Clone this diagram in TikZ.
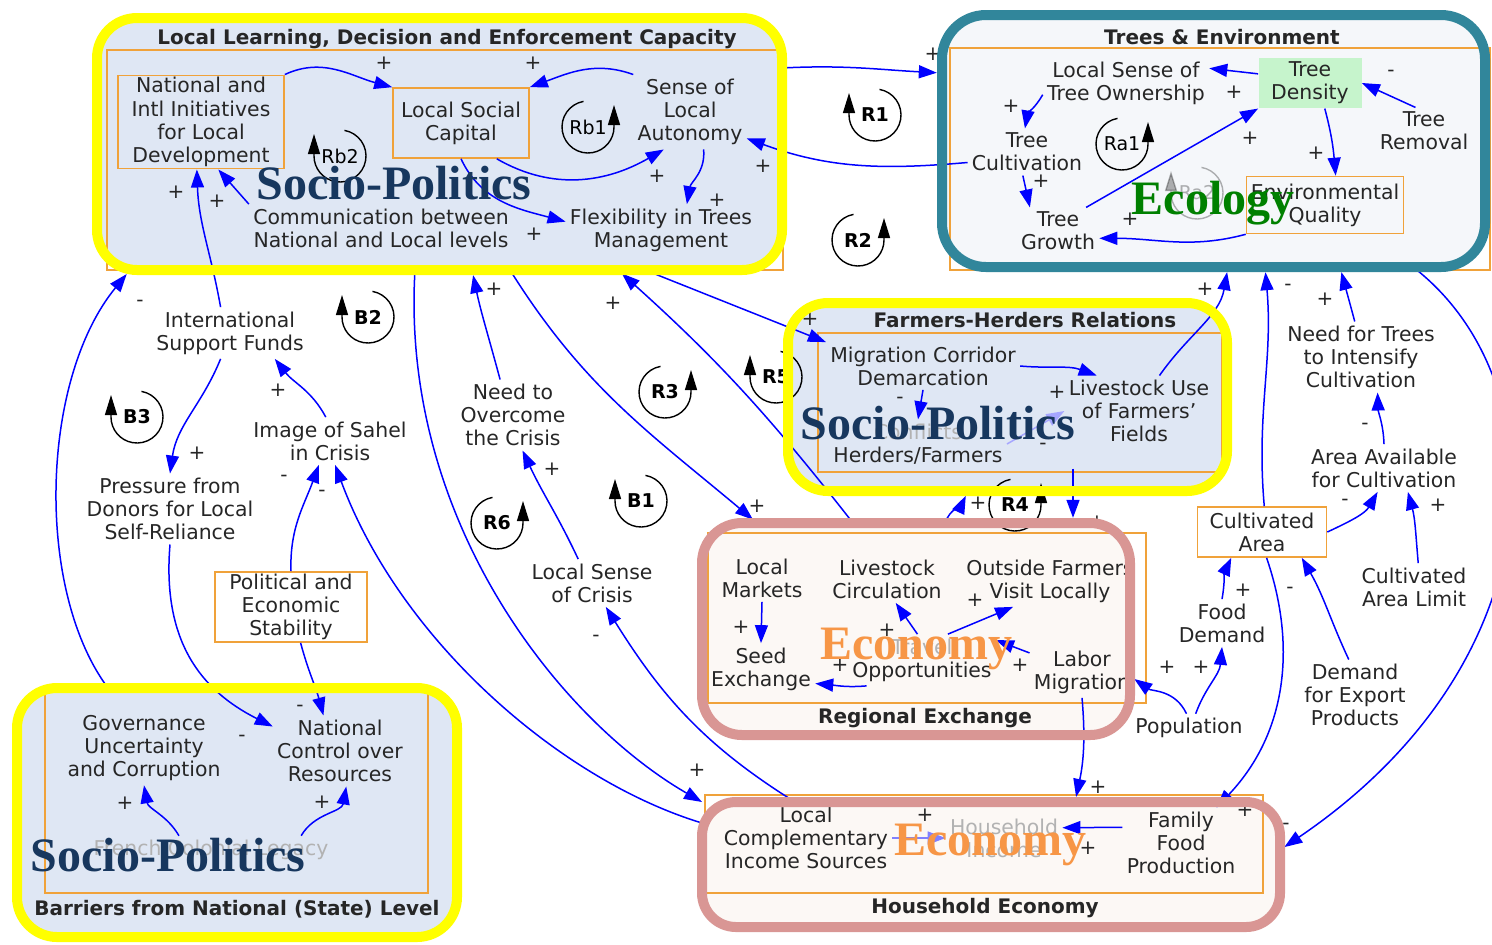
\documentclass[tikz,border=0pt]{standalone}
\usepackage{fontspec}
\setmainfont{DejaVu Sans}
\newfontfamily\bigserif{Liberation Serif}
\usetikzlibrary{arrows.meta,fit,calc}
\definecolor{rimyellow}{HTML}{FFFF00}
\definecolor{rimteal}{HTML}{31869B}
\definecolor{rimpink}{HTML}{D99694}
\definecolor{skyfill}{HTML}{DFE7F4}
\definecolor{palefill}{HTML}{F5F7FA}
\definecolor{creamfill}{HTML}{FCF8F5}
\definecolor{frameorange}{HTML}{F0A23A}
\definecolor{treegreen}{HTML}{C6F4CC}
\definecolor{navy}{HTML}{17375E}
\definecolor{ecogreen}{HTML}{008000}
\definecolor{econorange}{HTML}{F79646}
\definecolor{inkgray}{HTML}{262626}
\tikzset{
  >={Triangle[length=9pt,width=6.5pt]},
  var/.style={align=center, inner sep=2pt, text=inkgray, font=\fontsize{10.2}{11.6}\selectfont},
  stock/.style={var, draw=frameorange, line width=0.8pt, inner sep=1pt},
  link/.style={->, blue, line width=0.75pt},
  toframe/.style={shorten >=2.6pt},
  pol/.style={text=inkgray, inner sep=0pt, font=\fontsize{10}{10}\selectfont},
  grp/.style={inner sep=0pt, outer sep=0pt, rounded corners=20pt},
  rim/.style={line width=5pt, rounded corners=20pt},
  frame/.style={draw=frameorange, line width=1pt},
  title/.style={text=inkgray, font=\bfseries\fontsize{10}{12}\selectfont},
  big/.style={font=\bigserif\bfseries\fontsize{24}{24}\selectfont},
  loopline/.style={black, line width=0.7pt, -{Triangle[length=10pt,width=6pt]}},
  looptext/.style={text=black, inner sep=0pt, font=\bfseries\fontsize{9.5}{10}\selectfont},
  loopl/.pic={\draw[loopline] (80:13pt) arc[start angle=80,end angle=-180,radius=13pt] -- ++(0pt,11pt);
    \node[looptext] (-t) at (0,0) {#1};},
  loopr/.pic={\draw[loopline] (100:13pt) arc[start angle=100,end angle=360,radius=13pt] -- ++(0pt,11pt);
    \node[looptext] (-t) at (0,0) {#1};}
}
\begin{document}
\begin{tikzpicture}[x=0.5pt,y=-0.5pt]
\useasboundingbox (0,0) rectangle (1492,944);

\node[grp, fill=skyfill, fit={(97,18) (782,270)}] (learn) {};
\node[grp, fill=palefill, rounded corners=22pt, fit={(942,15) (1485,267)}] (trees) {};
\node[grp, fill=skyfill, fit={(788,303) (1227,491)}] (farm) {};
\node[grp, fill=creamfill, fit={(702,523) (1130,735)}] (reg) {};
\node[grp, fill=creamfill, rounded corners=17pt, fit={(702,802) (1280,927)}] (hh) {};
\node[grp, fill=skyfill, fit={(17,688) (457,937)}] (bar) {};

\draw[frame] (107,50) rectangle (783,270);
\draw[frame] (950,48) rectangle (1490,270);
\draw[frame] (818,333) rectangle (1222,472);
\draw[frame] (708,533) rectangle (1146,703);
\draw[frame] (705,795) rectangle (1263,893);
\draw[frame] (45,690) rectangle (428,893);

\node[title] (learnT) at (447,39) {Local Learning, Decision and Enforcement Capacity};
\node[title] (treesT) at (1222,37) {Trees \& Environment};
\node[title] (farmT) at (1025,320) {Farmers-Herders Relations};
\node[title] (regT) at (925,718) {Regional Exchange};
\node[title] (hhT) at (985,908) {Household Economy};
\node[title] (barT) at (237,909) {Barriers from National (State) Level};

\node[stock, minimum width=83pt, minimum height=46.5pt] (natl) at (201,122) {National and\\Intl Initiatives\\for Local\\Development};
\node[stock, minimum width=68pt, minimum height=35pt] (lsc) at (461,123) {Local Social\\Capital};
\node[var] (sla) at (690,112) {Sense of\\Local\\Autonomy};
\node[var] (comm) at (381,228) {Communication between\\National and Local levels};
\node[var] (flex) at (661,230) {Flexibility in Trees\\Management};

\node[var] (lsto) at (1126,83) {Local Sense of\\Tree Ownership};
\node[var, fill=treegreen, minimum width=51.5pt, minimum height=24pt] (tden) at (1310,83) {Tree\\Density};
\node[var] (trem) at (1424,131) {Tree\\Removal};
\node[var] (tcult) at (1027,152) {Tree\\Cultivation};
\node[var] (tgrow) at (1058,231) {Tree\\Growth};
\node[stock, minimum width=78.5pt, minimum height=28.5pt] (envq) at (1325,205) {Environmental\\Quality};

\node[var] (mig) at (923,366) {Migration Corridor\\Demarcation};
\node[var] (luse) at (1139,411) {Livestock Use\\of Farmers'\\Fields};
\node[var] (confl) at (918,444) {\textcolor{black!30}{Conflicts}\\Herders/Farmers};

\node[var] (lmkt) at (762,578) {Local\\Markets};
\node[var] (seed) at (761,669) {Seed\\Exchange};
\node[var] (lcirc) at (887,579) {Livestock\\Circulation};
\node[var] (ofv) at (1050,581) {Outside Farmers\\Visit Locally};
\node[var] (topp) at (922,660) {\textcolor{black!30}{Travel}\\Opportunities};
\node[var] (labor) at (1082,672) {Labor\\Migration};

\node[var] (lcis) at (806,838) {Local\\Complementary\\Income Sources};
\node[var, text=black!30] (hinc) at (1004,838) {Household\\Income};
\node[var] (ffp) at (1181,843) {Family\\Food\\Production};

\node[var] (gov) at (144,748) {Governance\\Uncertainty\\and Corruption};
\node[var] (ncr) at (340,751) {National\\Control over\\Resources};
\node[var, text=black!30] (fcl) at (211,850) {French Colonial Legacy};

\node[var] (isf) at (230,333) {International\\Support Funds};
\node[var] (pdl) at (170,509) {Pressure from\\Donors for Local\\Self-Reliance};
\node[var] (isc) at (330,441) {Image of Sahel\\in Crisis};
\node[stock, minimum width=76pt, minimum height=35pt] (pes) at (291,607) {Political and\\Economic\\Stability};
\node[var] (noc) at (513,415) {Need to\\Overcome\\the Crisis};
\node[var] (lsoc) at (592,583) {Local Sense\\of Crisis};
\node[stock, minimum width=64.5pt, minimum height=25pt] (carea) at (1262,532) {Cultivated\\Area};
\node[var] (ntic) at (1361,357) {Need for Trees\\to Intensify\\Cultivation};
\node[var] (aac) at (1384,468) {Area Available\\for Cultivation};
\node[var] (cal) at (1414,587) {Cultivated\\Area Limit};
\node[var] (fd) at (1222,623) {Food\\Demand};
\node[var] (dep) at (1355,695) {Demand\\for Export\\Products};
\node[var] (pop) at (1189,728) {Population};

\draw[link] (natl.north east) to[out=25,in=165] (lsc.north west) node[pol,at={(384,63)}] {+};
\draw[link] (sla.north west) to[out=160,in=20] (lsc.north east) node[pol,at={(533,63)}] {+};
\draw[link] (lsc.-45) to[out=-30,in=-150] (sla.-125) node[pol,at={(657,176)}] {+};
\draw[link] (sla.-70) to[out=-85,in=80] (flex.45) node[pol,at={(717,200)}] {+};
\draw[link] (comm.north west) -- (natl.-70) node[pol,at={(217,201)}] {+};
\draw[link] (lsc.south) to[out=-65,in=165] (flex.175) node[pol,at={(534,234)}] {+};

\draw[link] (tden.170) -- (lsto.10) node[pol,at={(1234,92)}] {+};
\draw[link] (trem.110) -- (tden.east) node[pol,at={(1391,73)}] {-};
\draw[link] (lsto.188) to[out=-120,in=80] (tcult.95) node[pol,at={(1011,106)}] {+};
\draw[link] (tcult.-100) -- (tgrow.140) node[pol,at={(1041,181)}] {+};
\draw[link] (tgrow.40) -- (tden.south west) node[pol,at={(1250,138)}] {+};
\draw[link] (tden.-60) to[out=-75,in=95] (envq.70) node[pol,at={(1316,153)}] {+};
\draw[link] (envq.south west) to[out=195,in=0] (tgrow.-10) node[pol,at={(1130,219)}] {+};

\draw[link] (mig.east) to[out=-5,in=160] (luse.140) node[pol,at={(1057,392)}] {+};
\draw[link] (mig.south) -- (confl.north) node[pol,at={(900,400)}] {-};
\draw[link, blue!35] (confl.east) -- (luse.west) node[pol,at={(1043,446)}] {-};

\draw[link] (lmkt.south) -- (seed.north) node[pol,at={(741,627)}] {+};
\draw[link] (topp.-155) to[out=185,in=-5] (seed.-15) node[pol,at={(840,665)}] {+};
\draw[link] (topp.100) -- (lcirc.-70) node[pol,at={(887,630)}] {+};
\draw[link] (topp.45) -- (ofv.-145) node[pol,at={(975,600)}] {+};
\draw[link] (labor.160) -- (topp.15) node[pol,at={(1020,665)}] {+};

\draw[link, blue!50] (lcis.east) -- (hinc.west) node[pol,at={(925,815)}] {+};
\draw[link] (ffp.165) -- (hinc.10) node[pol,at={(1088,848)}] {+};

\draw[link] (fcl.156) to[out=120,in=-80] (gov.south) node[pol,at={(125,803)}] {+};
\draw[link] (fcl.9) to[out=60,in=-100] (ncr.-80) node[pol,at={(322,802)}] {+};

\draw[link, toframe] (learn.east |- 0,68) to[out=3,in=177] (trees.west |- 0,73) node[pol,at={(933,54)}] {+};
\draw[link] (tcult.190) to[out=185,in=-20] (sla.-25) node[pol,at={(763,166)}] {+};
\draw[link, toframe] (noc.110) to[out=105,in=-78] (472,0 |- learn.south) node[pol,at={(494,289)}] {+};
\draw[link] (lsoc.120) to[out=115,in=-65] (noc.-75) node[pol,at={(552,469)}] {+};
\draw[link, toframe] (510,0 |- learn.south) to[out=-58,in=140] (757,0 |- reg.north) node[pol,at={(757,506)}] {+};
\draw[link, toframe] (853,0 |- reg.north) to[out=128,in=-42] (618,0 |- learn.south) node[pol,at={(613,303)}] {+};
\draw[link] (645,0 |- learn.south) -- (mig.north west) node[pol,at={(810,319)}] {+};
\draw[link, toframe] (luse.60) to[out=55,in=-100] (1228,0 |- trees.south) node[pol,at={(1205,289)}] {+};
\draw[link, toframe] (945,0 |- reg.north) to[out=70,in=-115] (968,0 |- farm.south) node[pol,at={(978,503)}] {+};
\draw[link, toframe] (1073,0 |- confl.south) -- (1073,0 |- reg.north) node[pol,at={(1097,522)}] {+};
\draw[link, toframe] (labor.south) to[out=-85,in=78] (1075,0 |- hh.north) node[pol,at={(1098,787)}] {+};
\draw[link, toframe] (pop.100) to[out=115,in=-35] (reg.east |- 0,676) node[pol,at={(1167,667)}] {+};
\draw[link] (pop.65) to[out=70,in=-95] (fd.south) node[pol,at={(1201,667)}] {+};
\draw[link] (fd.north) to[out=80,in=-115] (carea.-140) node[pol,at={(1243,590)}] {+};
\draw[link] (dep.100) to[out=115,in=-60] (carea.-33) node[pol,at={(1290,590)}] {-};
\draw[link] (carea.-80) .. controls (1295,640) and (1290,730) .. (ffp.45) node[pol,at={(1245,810)}] {+};
\draw[link, toframe] (carea.85) to[out=95,in=-85] (1265,0 |- trees.south) node[pol,at={(1288,287)}] {-};
\draw[link] (carea.east) to[out=25,in=-120] (aac.-105) node[pol,at={(1345,502)}] {-};
\draw[link] (cal.80) to[out=95,in=-75] (aac.-45) node[pol,at={(1438,505)}] {+};
\draw[link] (aac.north) to[out=92,in=-88] (ntic.-65) node[pol,at={(1365,426)}] {-};
\draw[link, toframe] (ntic.100) to[out=105,in=-75] (1340,0 |- trees.south) node[pol,at={(1325,299)}] {+};
\draw[link, toframe] (1413,0 |- trees.south) .. controls (1560,380) and (1560,660) .. (hh.east |- 0,850) node[pol,at={(1286,826)}] {-};
\draw[link] (415,0 |- learn.south) .. controls (400,520) and (560,720) .. (hh.north west) node[pol,at={(697,770)}] {+};
\draw[link] (795,0 |- hh.north) to[out=148,in=-58] (lsoc.-60) node[pol,at={(596,638)}] {-};
\draw[link] (hh.west |- 0,823) .. controls (560,780) and (400,640) .. (isc.-78) node[pol,at={(322,493)}] {-};
\draw[link, toframe] (108,0 |- bar.north) .. controls (35,590) and (40,380) .. (130,0 |- learn.south) node[pol,at={(140,303)}] {-};
\draw[link] (isf.110) to[out=100,in=-88] (natl.-95) node[pol,at={(176,192)}] {+};
\draw[link] (isf.-110) to[out=-112,in=82] (pdl.north) node[pol,at={(197,453)}] {+};
\draw[link] (isc.100) to[out=118,in=-52] (isf.-30) node[pol,at={(278,390)}] {+};
\draw[link] (pes.north) to[out=92,in=-110] (isc.-115) node[pol,at={(284,478)}] {-};
\draw[link] (pdl.south) .. controls (162,640) and (200,690) .. (ncr.160) node[pol,at={(242,738)}] {-};
\draw[link] (pes.-75) to[out=-75,in=105] (ncr.115) node[pol,at={(300,708)}] {-};

\pic (R1) at (875,115) {loopl=R1};
\pic (R2) at (858,240) {loopr=R2};
\pic (R3) at (665,392) {loopr=R3};
\pic (R4) at (1015,505) {loopr=R4};
\pic (R5) at (776,377) {loopl=R5};
\pic (R6) at (497,523) {loopr=R6};
\pic (B1) at (641,501) {loopl=B1};
\pic (B2) at (368,317) {loopl=B2};
\pic (B3) at (137,417) {loopl=B3};
\pic (Rb1) at (588,127) {loopr={\mdseries Rb1}};
\pic (Rb2) at (340,156) {loopl={\mdseries Rb2}};
\pic (Ra1) at (1122,144) {loopr={\mdseries Ra1}};
\pic[opacity=0.3] (Ra2) at (1197,193) {loopl={\mdseries Ra2}};

\draw[rim, rimyellow] (learn.south west) rectangle (learn.north east);
\draw[rim, rimteal, rounded corners=22pt] (trees.south west) rectangle (trees.north east);
\draw[rim, rimyellow] (farm.south west) rectangle (farm.north east);
\draw[rim, rimpink] (reg.south west) rectangle (reg.north east);
\draw[rim, rimpink, rounded corners=17pt] (hh.south west) rectangle (hh.north east);
\draw[rim, rimyellow] (bar.south west) rectangle (bar.north east);

\node[big, text=navy] (spLearn) at (394,183) {Socio-Politics};
\node[big, text=ecogreen] (ecoTrees) at (1213,203) {Ecology};
\node[big, text=navy] (spFarm) at (938,423) {Socio-Politics};
\node[big, text=econorange] (ecoReg) at (916,649) {Economy};
\node[big, text=econorange] (ecoHh) at (990,845) {Economy};
\node[big, text=navy] (spBar) at (168,855) {Socio-Politics};
\end{tikzpicture}
\end{document}
